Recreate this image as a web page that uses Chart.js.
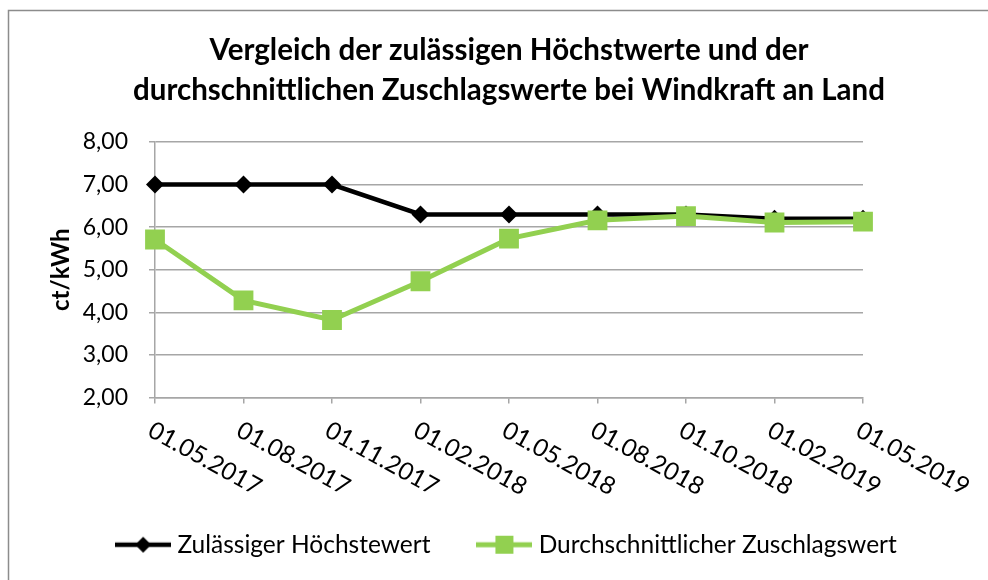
<!DOCTYPE html>
<html>
<head>
<meta charset="utf-8">
<script src="https://cdn.jsdelivr.net/npm/chart.js@4"></script>
<style>
  html, body { margin: 0; padding: 0; background: #fff; }
  #chart { display: block; }
</style>
</head>
<body>
<canvas id="chart" width="988" height="580"></canvas>
<script>
// Chart data
const dates = ['01.05.2017', '01.08.2017', '01.11.2017', '01.02.2018', '01.05.2018',
    '01.08.2018', '01.10.2018', '01.02.2019', '01.05.2019'];
const hoechstwert = [7.00, 7.00, 7.00, 6.30, 6.30, 6.30, 6.30, 6.20, 6.20];
const zuschlagswert = [5.71, 4.28, 3.82, 4.73, 5.73, 6.16, 6.26, 6.11, 6.13];
const titleLines = ['Vergleich der zulässigen Höchstwerte und der',
    'durchschnittlichen Zuschlagswerte bei Windkraft an Land'];
const yTitle = 'ct/kWh';
const yMin = 2, yMax = 8, yStep = 1;

const FONT = 'Lato, "Open Sans", sans-serif';
const GREEN = '#92D050';
const GRID = '#a6a6a6';

// legend symbols: short line with the marker in the middle
function legendSymbol(kind) {
    const c = document.createElement('canvas');
    c.width = 56; c.height = 22;
    const g = c.getContext('2d');
    g.strokeStyle = kind === 'diamond' ? '#000' : GREEN;
    g.lineWidth = kind === 'diamond' ? 4.5 : 5;
    g.beginPath(); g.moveTo(0, 11); g.lineTo(56, 11); g.stroke();
    g.fillStyle = kind === 'diamond' ? '#000' : GREEN;
    g.beginPath();
    if (kind === 'diamond') {
        g.moveTo(28, 3); g.lineTo(36, 11); g.lineTo(28, 19); g.lineTo(20, 11);
    } else {
        g.rect(19, 2, 18, 18);
    }
    g.fill();
    return c;
}

// frame around the chart
const framePlugin = {
    id: 'frame',
    beforeDraw(chart) {
        const ctx = chart.ctx;
        ctx.save();
        ctx.fillStyle = '#fff';
        ctx.fillRect(0, 0, chart.width, chart.height);
        ctx.strokeStyle = '#8c8c8c';
        ctx.lineWidth = 1.5;
        ctx.beginPath();
        ctx.moveTo(8.5, chart.height);
        ctx.lineTo(8.5, 10.5);
        ctx.lineTo(chart.width, 10.5);
        ctx.stroke();
        ctx.restore();
    }
};

// slanted category labels, starting at the tick and running down to the right
const slantLabels = {
    id: 'slantLabels',
    afterDraw(chart) {
        const scale = chart.scales.x;
        const ctx = chart.ctx;
        ctx.save();
        ctx.font = '24.5px ' + FONT;
        ctx.fillStyle = '#000';
        ctx.textAlign = 'left';
        ctx.textBaseline = 'top';
        dates.forEach((d, i) => {
            const x = scale.getPixelForTick(i);
            ctx.save();
            ctx.translate(x + 1, scale.top + 20);
            ctx.rotate(29 * Math.PI / 180);
            ctx.fillText(d, 0, 0);
            ctx.restore();
        });
        ctx.restore();
    }
};

new Chart(document.getElementById('chart'), {
    type: 'line',
    data: {
        labels: dates,
        datasets: [{
            label: 'Zulässiger Höchstewert',
            data: hoechstwert,
            borderColor: '#000',
            backgroundColor: '#000',
            borderWidth: 4.5,
            pointStyle: 'rectRot',
            pointRadius: 9,
            pointHoverRadius: 9,
            pointBorderWidth: 0,
            tension: 0,
            order: 1
        }, {
            label: 'Durchschnittlicher Zuschlagswert',
            data: zuschlagswert,
            borderColor: GREEN,
            backgroundColor: GREEN,
            borderWidth: 5,
            pointStyle: 'rect',
            pointRadius: 14,
            pointHoverRadius: 14,
            pointBorderWidth: 0,
            tension: 0,
            order: 0
        }]
    },
    options: {
        responsive: false,
        animation: false,
        layout: { padding: { left: 30, right: 0, top: 0, bottom: 13 } },
        scales: {
            x: {
                grid: { drawOnChartArea: false, drawTicks: true, tickLength: 6, color: GRID, lineWidth: 1.5 },
                border: { color: GRID, width: 1.5 },
                ticks: { display: false },
                afterFit(s) { s.height = 83; }
            },
            y: {
                min: yMin,
                max: yMax,
                grid: { color: GRID, lineWidth: 1.5, tickLength: 6 },
                border: { color: GRID, width: 1.5 },
                ticks: {
                    stepSize: yStep,
                    padding: 21,
                    color: '#000',
                    font: { family: FONT, size: 23 },
                    callback: v => v.toFixed(2).replace('.', ',')
                },
                title: {
                    display: true,
                    text: yTitle,
                    color: '#000',
                    font: { family: FONT, size: 24, weight: 'bold' },
                    padding: { top: 17, bottom: 0 }
                },
                afterFit(s) { s.width = 125; }
            },
            pad: {
                type: 'linear',
                position: 'right',
                grid: { display: false },
                border: { display: false },
                ticks: { display: false },
                afterFit(s) { s.width = 125; }
            }
        },
        plugins: {
            title: {
                display: true,
                text: titleLines,
                color: '#000',
                font: { family: FONT, size: 29.5, weight: 'bold', lineHeight: '40px' },
                padding: { top: 30, bottom: 32 }
            },
            legend: {
                position: 'bottom',
                labels: {
                    usePointStyle: true,
                    pointStyleWidth: 44,
                    padding: 52,
                    color: '#000',
                    font: { family: FONT, size: 24.5 },
                    generateLabels(chart) {
                        return chart.data.datasets.map((ds, i) => ({
                            text: ds.label,
                            datasetIndex: i,
                            pointStyle: legendSymbol(i === 0 ? 'diamond' : 'square'),
                            fillStyle: ds.backgroundColor,
                            strokeStyle: ds.borderColor,
                            lineWidth: 0,
                            fontColor: '#000',
                            hidden: false
                        }));
                    }
                }
            },
            tooltip: { enabled: false }
        }
    },
    plugins: [framePlugin, slantLabels]
});
</script>
</body>
</html>
